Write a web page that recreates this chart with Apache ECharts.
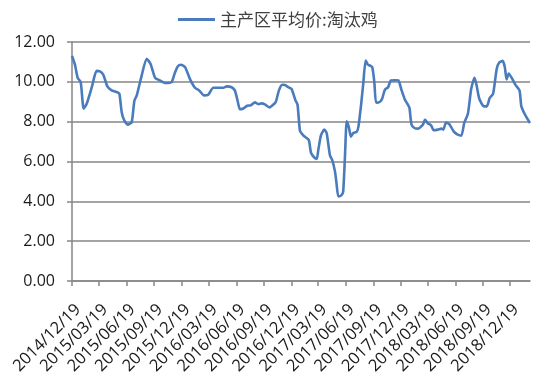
<!DOCTYPE html>
<html>
<head>
<meta charset="utf-8">
<script src="https://cdn.jsdelivr.net/npm/echarts@6/dist/echarts.min.js"></script>
<style>
  html, body { margin: 0; padding: 0; background: #fff; }
  #chart { width: 550px; height: 379px; }
</style>
</head>
<body>
<div id="chart"></div>
<script>
// 主产区平均价:淘汰鸡, days counted from 2014/12/19
let startDate = '2014/12/19'
let tickLabels = ['2014/12/19', '2015/03/19', '2015/06/19', '2015/09/19', '2015/12/19',
    '2016/03/19', '2016/06/19', '2016/09/19', '2016/12/19', '2017/03/19', '2017/06/19',
    '2017/09/19', '2017/12/19', '2018/03/19', '2018/06/19', '2018/09/19', '2018/12/19']
let lastDay = 1527

let dayOffsets = [0, 10, 19, 29, 39, 49, 66, 82, 93, 104, 118, 132, 151, 158, 166, 174, 186, 199,
    208, 216, 232, 249, 262, 277, 293, 310, 332, 343, 353, 363, 377, 393, 410, 424, 440, 454,
    471, 488, 504, 516, 532, 543, 552, 560, 571, 584, 596, 610, 621, 633, 643, 658, 668, 679,
    690, 701, 710, 721, 732, 745, 752, 760, 771, 782, 790, 797, 808, 816, 821, 830, 841, 849,
    860, 868, 877, 882, 888, 898, 904, 910, 916, 923, 930, 938, 949, 955, 963, 971, 979, 986,
    993, 1001, 1008, 1014, 1027, 1034, 1043, 1054, 1063, 1077, 1088, 1099, 1110, 1118, 1125,
    1132, 1143, 1154, 1162, 1170, 1177, 1186, 1197, 1206, 1220, 1232, 1238, 1247, 1258, 1273,
    1286, 1298, 1308, 1320, 1331, 1342, 1349, 1358, 1373, 1383, 1393, 1404, 1416, 1425, 1436,
    1443, 1449, 1456, 1466, 1478, 1492, 1498, 1508, 1518, 1527]
let prices = [11.30, 10.85, 10.20, 9.99, 8.65, 8.90, 9.73, 10.55, 10.52, 10.37, 9.77, 9.57, 9.48,
    9.40, 8.45, 8.07, 7.85, 7.98, 9.05, 9.32, 10.30, 11.16, 10.90, 10.20, 10.07, 9.94, 9.99,
    10.45, 10.78, 10.86, 10.74, 10.15, 9.70, 9.57, 9.32, 9.35, 9.70, 9.70, 9.70, 9.77, 9.73,
    9.57, 9.05, 8.62, 8.66, 8.80, 8.82, 8.97, 8.88, 8.92, 8.87, 8.72, 8.82, 8.98, 9.57, 9.85,
    9.84, 9.73, 9.65, 9.07, 8.85, 7.55, 7.31, 7.18, 7.06, 6.43, 6.20, 6.13, 6.56, 7.31, 7.60,
    7.43, 6.31, 6.06, 5.48, 4.89, 4.25, 4.30, 4.47, 6.23, 8.02, 7.73, 7.25, 7.43, 7.48, 7.75,
    8.73, 9.90, 11.07, 10.87, 10.82, 10.74, 9.99, 8.95, 9.00, 9.15, 9.60, 9.73, 10.07, 10.08,
    10.07, 9.57, 9.10, 8.90, 8.70, 7.85, 7.67, 7.65, 7.73, 7.85, 8.10, 7.92, 7.82, 7.57, 7.60,
    7.65, 7.60, 7.96, 7.88, 7.50, 7.35, 7.30, 7.95, 8.40, 9.65, 10.20, 9.82, 9.15, 8.77, 8.77,
    9.20, 9.40, 10.65, 10.98, 11.05, 10.74, 10.12, 10.42, 10.20, 9.86, 9.57, 8.78, 8.42, 8.15,
    7.93]

function dayOf(s) {
    let a = s.split('/').map(Number)
    let b = startDate.split('/').map(Number)
    return Math.round((Date.UTC(a[0], a[1] - 1, a[2]) - Date.UTC(b[0], b[1] - 1, b[2])) / 86400000)
}

let tickDays = tickLabels.map(dayOf)
let labelOf = {}
tickLabels.forEach(function (t, i) { labelOf[tickDays[i]] = t })

let points = dayOffsets.map(function (d, i) { return [d, prices[i]] })

let chart = echarts.init(document.getElementById('chart'))
let option = {
    animation: false,
    backgroundColor: '#fff',
    legend: {
        left: 173,
        top: 6,
        icon: 'rect',
        itemWidth: 37,
        itemHeight: 3,
        itemGap: 7,
        textStyle: {
            fontFamily: 'Noto Sans CJK SC',
            fontSize: 17,
            color: '#404040'
        },
        data: ['主产区平均价:淘汰鸡']
    },
    grid: {
        left: 72,
        right: 20,
        top: 42,
        bottom: 98,
        outerBoundsMode: 'none'
    },
    xAxis: {
        type: 'value',
        min: 0,
        max: lastDay,
        axisLine: { lineStyle: { color: '#868686', width: 1.5 } },
        axisTick: {
            show: true,
            length: 5,
            customValues: tickDays,
            lineStyle: { color: '#868686', width: 1.5 }
        },
        axisLabel: {
            customValues: tickDays,
            rotate: 45,
            margin: 20,
            verticalAlign: 'top',
            fontFamily: 'Open Sans',
            fontSize: 16.5,
            color: '#1a1a1a',
            formatter: function (v) { return labelOf[v] || '' }
        },
        splitLine: { show: false }
    },
    yAxis: {
        type: 'value',
        min: 0,
        max: 12,
        interval: 2,
        axisLine: { show: true, lineStyle: { color: '#868686', width: 1.5 } },
        axisTick: { show: true, length: 5, lineStyle: { color: '#868686', width: 1.5 } },
        axisLabel: {
            margin: 17,
            fontFamily: 'Open Sans',
            fontSize: 16,
            color: '#1a1a1a',
            formatter: function (v) { return v.toFixed(2) }
        },
        splitLine: { lineStyle: { color: '#868686', width: 1.5 } }
    },
    series: [{
        name: '主产区平均价:淘汰鸡',
        type: 'line',
        data: points,
        showSymbol: false,
        smooth: 0.2,
        lineStyle: { color: '#4a7bbd', width: 2.6 },
        itemStyle: { color: '#4a7bbd' }
    }]
}
chart.setOption(option)
</script>
</body>
</html>
